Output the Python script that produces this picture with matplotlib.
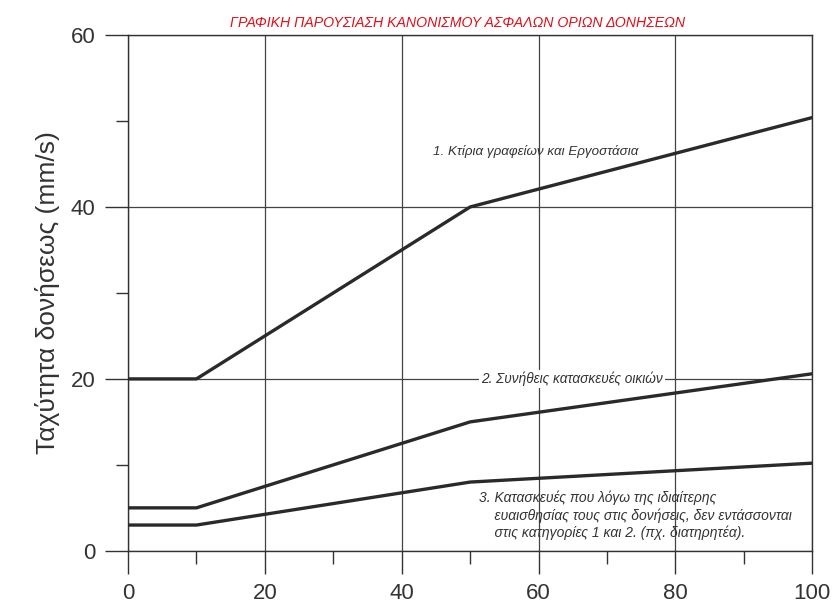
import matplotlib.pyplot as plt
from matplotlib.ticker import MultipleLocator

# Οριακές καμπύλες (συχνότητα Hz -> ταχύτητα mm/s)
x_kat1 = [0, 10, 50, 100]
y_kat1 = [20, 20, 40, 50.4]

x_kat2 = [0, 10, 50, 100]
y_kat2 = [5, 5, 15, 20.6]

x_kat3 = [0, 10, 50, 100]
y_kat3 = [3, 3, 8, 10.2]

etiketes = [
    '1. Κτίρια γραφείων και Εργοστάσια',
    '2. Συνήθεις κατασκευές οικιών',
    '3. Κατασκευές που λόγω της ιδιαίτερης\n'
    '    ευαισθησίας τους στις δονήσεις, δεν εντάσσονται\n'
    '    στις κατηγορίες 1 και 2. (πχ. διατηρητέα).',
]

plt.rcParams['font.family'] = ['Liberation Sans', 'DejaVu Sans']

fig = plt.figure(figsize=(8.34, 6.09), dpi=100)
ax = fig.add_axes([0.1535, 0.0955, 0.8205, 0.847])

ax.plot(x_kat1, y_kat1, color='#2a2a2a', linewidth=2.4, zorder=3)
ax.plot(x_kat2, y_kat2, color='#2a2a2a', linewidth=2.4, zorder=3)
ax.plot(x_kat3, y_kat3, color='#2a2a2a', linewidth=2.4, zorder=3)

ax.set_xlim(0, 100)
ax.set_ylim(0, 60)
ax.xaxis.set_major_locator(MultipleLocator(20))
ax.xaxis.set_minor_locator(MultipleLocator(10))
ax.yaxis.set_major_locator(MultipleLocator(20))
ax.yaxis.set_minor_locator(MultipleLocator(10))
ax.grid(True, which='major', color='#444444', linewidth=0.9, zorder=1)

for s in ax.spines.values():
    s.set_color('#333333')
    s.set_linewidth(1.0)

ax.tick_params(which='major', direction='out', length=16.5, width=1, color='#333333',
               labelsize=16, labelcolor='#333333', pad=7)
ax.tick_params(which='minor', direction='out', length=9, width=1, color='#333333')

ax.set_ylabel('Ταχύτητα δονήσεως (mm/s)', fontsize=19, color='#333333', labelpad=8)

fig.text(0.549, 0.962, 'ΓΡΑΦΙΚΗ ΠΑΡΟΥΣΙΑΣΗ ΚΑΝΟΝΙΣΜΟΥ ΑΣΦΑΛΩΝ ΟΡΙΩΝ ΔΟΝΗΣΕΩΝ',
         color='#e0101a', fontsize=10.2, style='italic', ha='center', va='center')

ax.text(44.5, 46.4, etiketes[0], fontsize=9.6, style='italic', color='#333333',
        va='center', zorder=4)
ax.text(51.6, 20.0, etiketes[1], fontsize=9.8, style='italic', color='#333333',
        va='center', zorder=4,
        bbox=dict(facecolor='white', edgecolor='none', pad=1.5))
ax.text(51.3, 7.0, etiketes[2], fontsize=10, style='italic', color='#333333',
        va='top', ha='left', linespacing=1.25, zorder=4)

fig.savefig('out.png', dpi=100, facecolor='white')
